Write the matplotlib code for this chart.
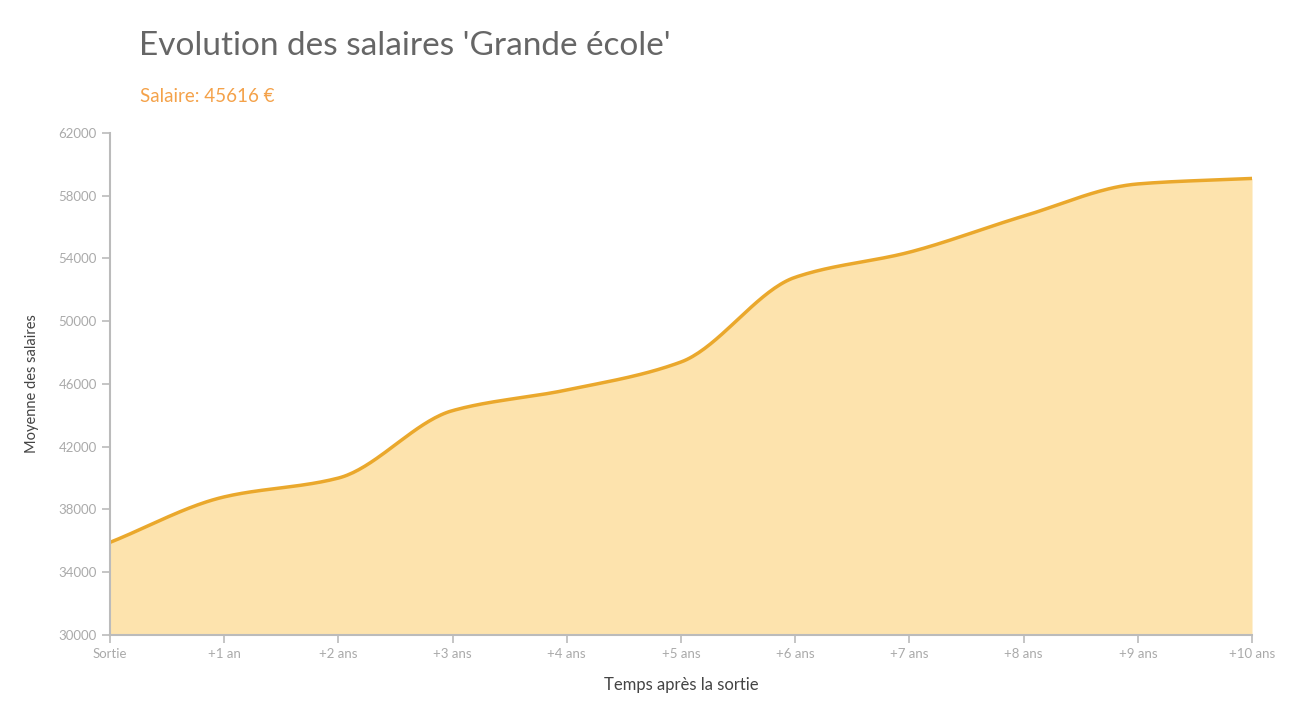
import numpy as np
import matplotlib
matplotlib.use('Agg')
from matplotlib import pyplot as plt

plt.rcParams['font.family'] = ['Lato', 'DejaVu Sans']

labels = ['Sortie', '+1 an', '+2 ans', '+3 ans', '+4 ans', '+5 ans',
          '+6 ans', '+7 ans', '+8 ans', '+9 ans', '+10 ans']
salaries = [35900, 38800, 40000, 44300, 45616, 47400,
            52800, 54400, 56700, 58750, 59100]


def monotone(x, y, n=40):
    # Fritsch-Carlson monotone cubic, like d3 curveMonotoneX
    x = np.asarray(x, float)
    y = np.asarray(y, float)
    h = np.diff(x)
    d = np.diff(y) / h
    m = np.zeros_like(y)
    m[0], m[-1] = d[0], d[-1]
    for i in range(1, len(y) - 1):
        if d[i - 1] * d[i] <= 0:
            m[i] = 0
        else:
            m[i] = 3 * (h[i - 1] + h[i]) / ((2 * h[i] + h[i - 1]) / d[i - 1] + (h[i] + 2 * h[i - 1]) / d[i])
    xs, ys = [], []
    for i in range(len(h)):
        t = np.linspace(0, 1, n)
        h00 = 2 * t**3 - 3 * t**2 + 1
        h10 = t**3 - 2 * t**2 + t
        h01 = -2 * t**3 + 3 * t**2
        h11 = t**3 - t**2
        xs.append(x[i] + t * h[i])
        ys.append(h00 * y[i] + h10 * h[i] * m[i] + h01 * y[i + 1] + h11 * h[i] * m[i + 1])
    return np.concatenate(xs), np.concatenate(ys)


x = np.arange(len(labels))
xs, ys = monotone(x, salaries)

fig = plt.figure(figsize=(13, 7.11), dpi=100)
ax = fig.add_axes([0.0846, 0.107, 0.8785, 0.706])
ax.fill_between(xs, 30000, ys, color='#fde3ad', lw=0)
ax.plot(xs, ys, color='#eaa82c', lw=2.5)

ax.set_xlim(0, len(labels) - 1)
ax.set_ylim(30000, 62000)
ax.set_yticks(np.arange(30000, 62001, 4000))
ax.set_xticks(x)
ax.set_xticklabels(labels)
for s in ['top', 'right']:
    ax.spines[s].set_visible(False)
for s in ['left', 'bottom']:
    ax.spines[s].set_color('#bbbbbb')
    ax.spines[s].set_linewidth(1.5)
ax.tick_params(colors='#bbbbbb', labelcolor='#aaaaaa', labelsize=9.5, length=6, width=1.2)
ax.set_xlabel('Temps après la sortie', fontsize=12, color='#444444', labelpad=12)
ax.set_ylabel('Moyenne des salaires', fontsize=10.5, color='#444444', labelpad=14)

fig.text(0.107, 0.935, "Evolution des salaires 'Grande école'", fontsize=24, color='#666666', va='center')
fig.text(0.108, 0.864, 'Salaire: 45616 €', fontsize=13.5, color='#f4a24a', va='center')

fig.savefig('out.png')
